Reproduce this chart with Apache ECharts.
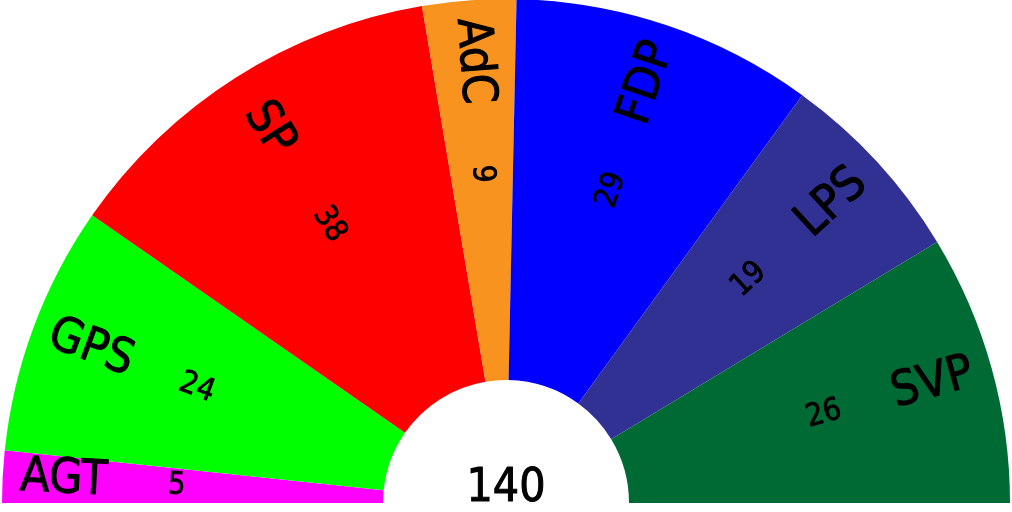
<!DOCTYPE html>
<html>
<head>
<meta charset="utf-8">
<script src="https://cdn.jsdelivr.net/npm/echarts@6/dist/echarts.min.js"></script>
<style>
html,body{margin:0;padding:0;background:#fff;}
#chart{width:1012px;height:512px;}
</style>
</head>
<body>
<div id="chart"></div>
<script>
const parties = ['AGT', 'GPS', 'SP', 'AdC', 'FDP', 'LPS', 'SVP'];
const seats = [5, 24, 38, 9, 29, 19, 26];
const colors = ['#FF00FF', '#00FF00', '#FF0000', '#F7931E', '#0000FF', '#313193', '#006A35'];
const totalLabel = '140';

const FONT = '"Liberation Sans Narrow", "DejaVu Sans Condensed", Roboto, sans-serif';
const CENTER = [506, 503];

const chart = echarts.init(document.getElementById('chart'), null, {renderer: 'canvas'});

function mkData(withColor) {
  return parties.map((p, i) => ({
    name: p,
    value: seats[i],
    itemStyle: withColor ? {color: colors[i]} : {color: 'rgba(0,0,0,0)'}
  }));
}

const common = {
  type: 'pie',
  center: CENTER,
  startAngle: 180,
  endAngle: 0,
  clockwise: true,
  avoidLabelOverlap: false,
  silent: true,
  animation: false,
  emphasis: {disabled: true},
  labelLine: {show: false}
};

chart.setOption({
  animation: false,
  series: [
    Object.assign({}, common, {
      name: 'seats',
      radius: [123, 504],
      data: mkData(true),
      label: {show: false}
    }),
    Object.assign({}, common, {
      name: 'names',
      radius: [425, 455],
      data: mkData(false),
      label: {
        show: true,
        position: 'inside',
        rotate: 'radial',
        formatter: '{b}',
        color: '#000',
        fontFamily: FONT,
        fontSize: 48,
        textBorderColor: '#000',
        textBorderWidth: 1
      }
    }),
    Object.assign({}, common, {
      name: 'numbers',
      radius: [312, 342],
      data: mkData(false),
      label: {
        show: true,
        position: 'inside',
        rotate: 'radial',
        formatter: '{c}',
        color: '#000',
        fontFamily: FONT,
        fontSize: 31,
        textBorderColor: '#000',
        textBorderWidth: 0.8
      }
    })
  ],
  graphic: [{
    type: 'text',
    left: 'center',
    top: 466,
    style: {
      text: totalLabel,
      fill: '#000',
      font: '46px ' + FONT,
      stroke: '#000',
      lineWidth: 1
    }
  }]
});
</script>
</body>
</html>
